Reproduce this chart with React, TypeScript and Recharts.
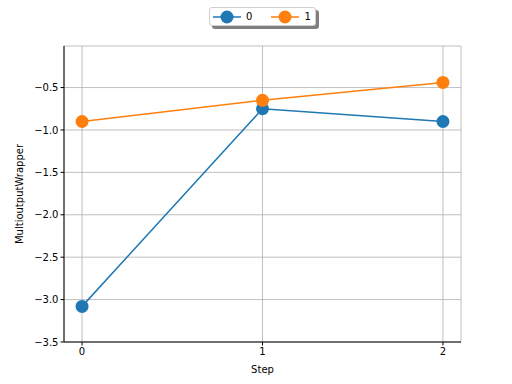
import { CartesianGrid, Line, LineChart, XAxis, YAxis } from "recharts";

const BLUE = "#1f77b4";
const ORANGE = "#ff7f0e";
const GRID = "#b0b0b0";
const FONT = "DejaVu Sans, sans-serif";

const steps = [0, 1, 2];
const series0 = [-3.08, -0.75, -0.9];
const series1 = [-0.9, -0.65, -0.44];
const yTicks = [-3.5, -3.0, -2.5, -2.0, -1.5, -1.0, -0.5];

const data = steps.map((s, i) => ({ step: s, s0: series0[i], s1: series1[i] }));

function LegendBox() {
  const item = (color: string, label: string, gap: number) => (
    <div style={{ display: "flex", alignItems: "center", marginRight: gap }}>
      <svg width={28} height={14}>
        <line x1={0} y1={7} x2={28} y2={7} stroke={color} strokeWidth={1.5} />
        <circle cx={14} cy={7} r={6.5} fill={color} />
      </svg>
      <span style={{ marginLeft: 5, fontSize: 10, color: "#000" }}>{label}</span>
    </div>
  );
  return (
    <div
      style={{
        position: "absolute",
        left: 209,
        top: 7,
        width: 107,
        height: 19,
        boxSizing: "border-box",
        display: "flex",
        alignItems: "center",
        paddingLeft: 3,
        border: "1px solid #d0d0d0",
        borderRadius: 3,
        background: "#fff",
        boxShadow: "3px 3px 0 #7f7f7f",
        fontFamily: FONT,
      }}
    >
      {item(BLUE, "0", 19)}
      {item(ORANGE, "1", 0)}
    </div>
  );
}

export default function App() {
  return (
    <div style={{ position: "absolute", left: 0, top: 0, width: 512, height: 384, background: "#fff" }}>
      <LineChart width={512} height={384} data={data} margin={{ top: 46, right: 51, bottom: 0, left: 0 }}>
        <CartesianGrid stroke={GRID} strokeWidth={0.8} />
        <XAxis
          dataKey="step"
          type="number"
          domain={[-0.1, 2.1]}
          ticks={steps}
          height={42}
          tick={{ fill: "#000", fontSize: 10, fontFamily: FONT }}
          tickLine={{ stroke: "#000" }}
          tickSize={3.5}
          axisLine={{ stroke: "#000" }}
          label={{ value: "Step", position: "insideBottom", offset: 11, fill: "#000", fontSize: 10, fontFamily: FONT }}
        />
        <XAxis xAxisId="top" dataKey="step" type="number" domain={[-0.1, 2.1]} orientation="top" height={0} tick={false} tickLine={false} axisLine={{ stroke: "#000" }} />
        <YAxis
          type="number"
          domain={[-3.5, -0.01]}
          ticks={yTicks}
          width={64}
          allowDataOverflow
          tickFormatter={(v) => v.toFixed(1).replace("-", "\u2212")}
          tick={{ fill: "#000", fontSize: 10, fontFamily: FONT }}
          tickLine={{ stroke: "#000" }}
          tickSize={3.5}
          axisLine={{ stroke: "#000" }}
          label={{ value: "MultioutputWrapper", angle: -90, position: "insideLeft", offset: 19, fill: "#000", fontSize: 10, fontFamily: FONT, style: { textAnchor: "middle" } }}
        />
        <YAxis yAxisId="right" orientation="right" domain={[-3.5, -0.01]} width={0} tick={false} tickLine={false} axisLine={{ stroke: "#000" }} />
        <Line dataKey="s0" name="0" stroke={BLUE} strokeWidth={1.5} dot={{ r: 6.5, fill: BLUE, stroke: BLUE, strokeWidth: 0 }} isAnimationActive={false} />
        <Line dataKey="s1" name="1" stroke={ORANGE} strokeWidth={1.5} dot={{ r: 6.5, fill: ORANGE, stroke: ORANGE, strokeWidth: 0 }} isAnimationActive={false} />
      </LineChart>
      <LegendBox />
    </div>
  );
}
